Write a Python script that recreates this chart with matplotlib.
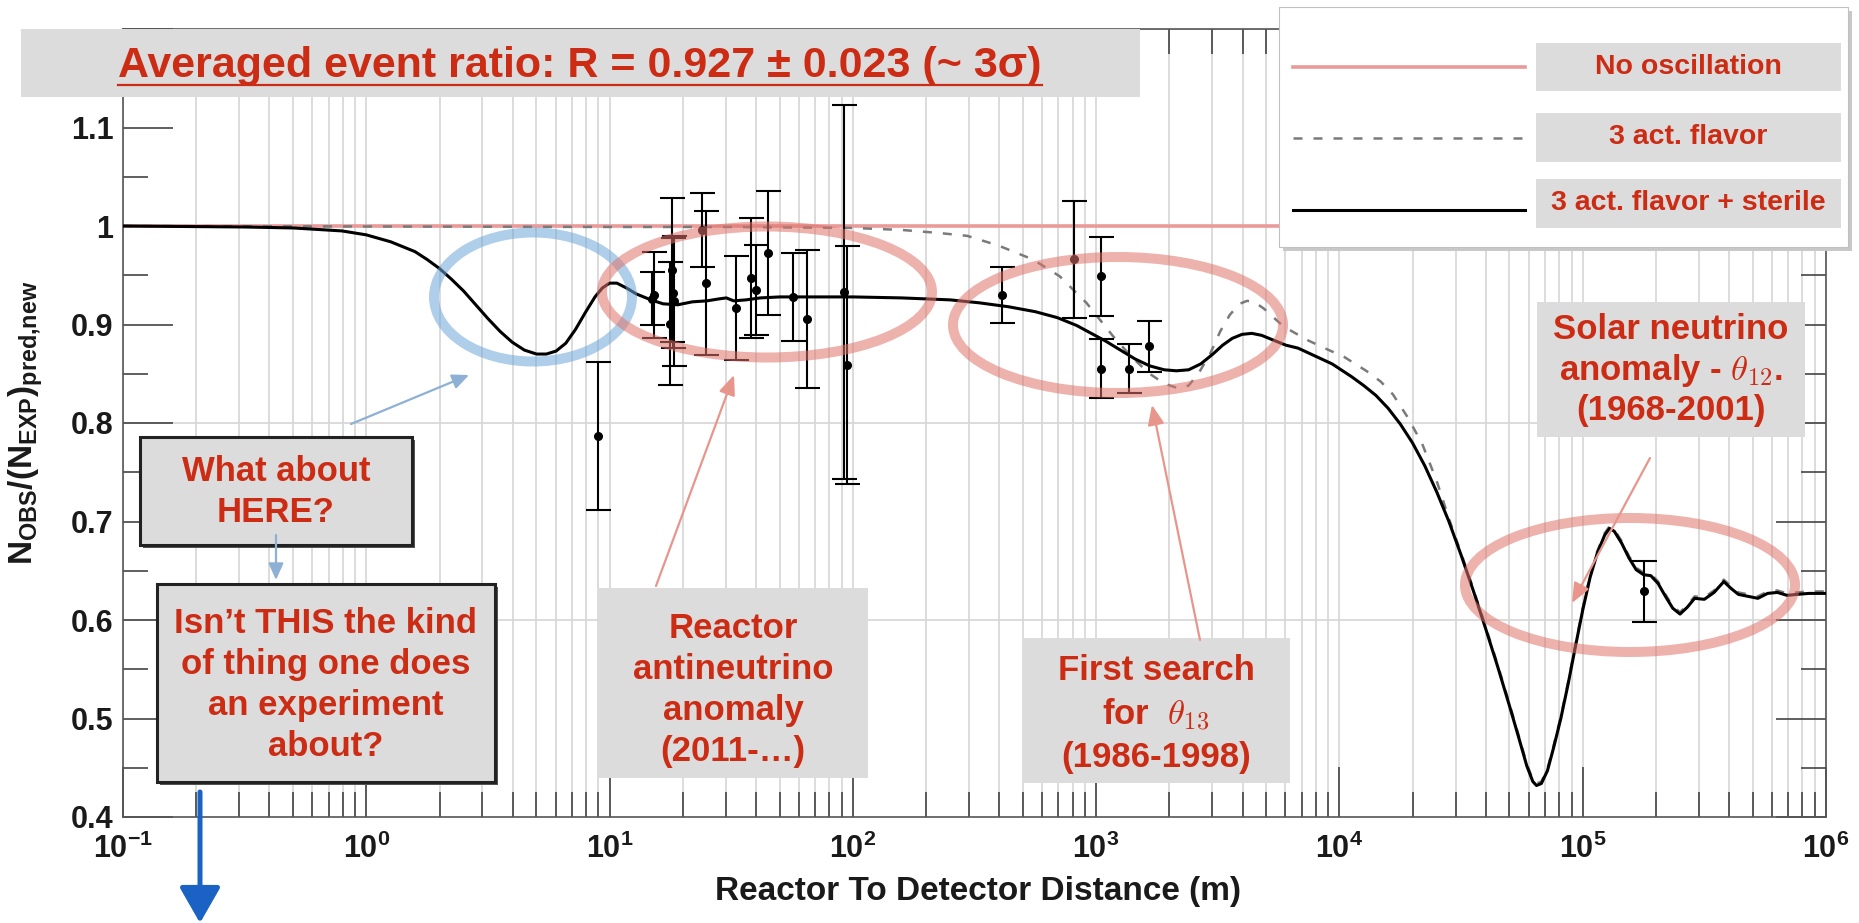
import numpy as np
import matplotlib
matplotlib.use("Agg")
import matplotlib.pyplot as plt
from matplotlib.patches import Rectangle, Ellipse, FancyArrowPatch
from matplotlib.lines import Line2D
from matplotlib.ticker import FixedLocator, FixedFormatter, LogLocator, NullFormatter, MultipleLocator

plt.rcParams['font.family'] = ['Liberation Sans', 'DejaVu Sans']
plt.rcParams['font.weight'] = 'bold'
plt.rcParams['mathtext.fontset'] = 'custom'
plt.rcParams['mathtext.rm'] = 'Liberation Sans:bold'
plt.rcParams['mathtext.it'] = 'Liberation Sans:bold:italic'
plt.rcParams['mathtext.bf'] = 'Liberation Sans:bold'

# measured event ratios (distance in m)
distance = [9, 15, 15.2, 17.8, 18, 18.2, 18.4, 24, 25, 33, 38, 40, 45, 57, 65, 92, 95,
            410, 810, 1050, 1050, 1370, 1650, 179000]
ratio = [0.787, 0.926, 0.930, 0.901, 0.955, 0.932, 0.924, 0.996, 0.942, 0.917, 0.947, 0.935,
         0.973, 0.928, 0.906, 0.933, 0.859, 0.930, 0.966, 0.949, 0.855, 0.855, 0.878, 0.629]
ratio_err = [0.075, 0.027, 0.044, 0.062, 0.073, 0.056, 0.066, 0.038, 0.073, 0.053, 0.061, 0.046,
             0.063, 0.045, 0.070, 0.190, 0.121, 0.028, 0.059, 0.040, 0.030, 0.025, 0.026, 0.031]

# 3 active flavours + sterile (log10 of distance in m)
sterile_logd = [-1.00, -0.50, -0.30, -0.10, 0.00, 0.10, 0.20, 0.25, 0.30, 0.35, 0.40, 0.45, 0.50,
                0.55, 0.60, 0.65, 0.70, 0.74, 0.78, 0.82, 0.86, 0.90, 0.94, 0.97, 1.00, 1.03, 1.07,
                1.11, 1.17, 1.22, 1.28, 1.34, 1.40, 1.45, 1.48, 1.51, 1.56, 1.62, 1.70, 1.80, 2.00,
                2.20, 2.40, 2.52, 2.64, 2.75, 2.84, 2.92, 2.98, 3.04, 3.10, 3.16, 3.22, 3.28, 3.33,
                3.38, 3.43, 3.48, 3.52, 3.56, 3.60, 3.64, 3.68, 3.73, 3.78, 3.83, 3.90, 3.97, 4.05,
                4.10, 4.15, 4.20, 4.25, 4.30, 4.35, 4.40, 4.45, 4.50, 4.55, 4.60, 4.65, 4.70, 4.74,
                4.77, 4.795, 4.81, 4.83, 4.855, 4.88, 4.91, 4.94, 4.97, 5.00, 5.03, 5.06, 5.09, 5.11,
                5.13, 5.16, 5.19, 5.22, 5.25, 5.28, 5.31, 5.34, 5.37, 5.40, 5.43, 5.46, 5.50, 5.54,
                5.58, 5.61, 5.64, 5.68, 5.72, 5.76, 5.80, 5.84, 5.88, 5.93, 6.00]
sterile_ratio = [1.000, 0.999, 0.998, 0.995, 0.991, 0.984, 0.974, 0.966, 0.957, 0.946, 0.934, 0.920,
                 0.906, 0.893, 0.882, 0.874, 0.870, 0.870, 0.873, 0.881, 0.895, 0.912, 0.928, 0.937,
                 0.942, 0.942, 0.937, 0.931, 0.925, 0.921, 0.920, 0.923, 0.924, 0.926, 0.927, 0.924,
                 0.925, 0.927, 0.928, 0.928, 0.928, 0.927, 0.925, 0.922, 0.918, 0.913, 0.907, 0.899,
                 0.891, 0.883, 0.874, 0.865, 0.858, 0.854, 0.853, 0.854, 0.860, 0.870, 0.879, 0.886,
                 0.890, 0.891, 0.889, 0.884, 0.879, 0.876, 0.868, 0.860, 0.847, 0.838, 0.828, 0.815,
                 0.799, 0.780, 0.757, 0.730, 0.700, 0.666, 0.630, 0.592, 0.553, 0.512, 0.478, 0.452,
                 0.436, 0.432, 0.434, 0.447, 0.470, 0.500, 0.535, 0.573, 0.610, 0.643, 0.668, 0.686,
                 0.693, 0.690, 0.678, 0.663, 0.651, 0.646, 0.645, 0.637, 0.624, 0.612, 0.606, 0.613,
                 0.622, 0.621, 0.628, 0.639, 0.632, 0.626, 0.624, 0.622, 0.627, 0.628, 0.625, 0.626,
                 0.627, 0.627]

# 3 active flavours
active_logd = [-1.00, 1.00, 1.50, 2.00, 2.20, 2.35, 2.47, 2.60, 2.74, 2.85, 2.96, 3.07, 3.15, 3.22,
               3.28, 3.34, 3.38, 3.42, 3.47, 3.51, 3.55, 3.59, 3.62, 3.65, 3.69, 3.77, 3.87, 3.93,
               4.02, 4.11, 4.17, 4.22, 4.28, 4.34, 4.40, 4.45, 4.50, 4.55, 4.60, 4.65, 4.70, 4.74,
               4.77, 4.795, 4.81, 4.83, 4.855, 4.88, 4.91, 4.94, 4.97, 5.00, 5.03, 5.06, 5.09, 5.11,
               5.13, 5.16, 5.19, 5.22, 5.25, 5.28, 5.31, 5.34, 5.37, 5.40, 5.43, 5.46, 5.50, 5.54,
               5.58, 5.61, 5.64, 5.68, 5.72, 5.76, 5.80, 5.84, 5.88, 5.93, 6.00]
active_ratio = [1.000, 0.999, 0.999, 0.998, 0.996, 0.993, 0.990, 0.980, 0.966, 0.949, 0.922, 0.888,
                0.866, 0.850, 0.840, 0.835, 0.838, 0.850, 0.871, 0.893, 0.910, 0.921, 0.924, 0.923,
                0.916, 0.898, 0.884, 0.877, 0.867, 0.853, 0.842, 0.829, 0.806, 0.779, 0.741, 0.703,
                0.668, 0.632, 0.594, 0.555, 0.514, 0.480, 0.454, 0.438, 0.434, 0.436, 0.449, 0.472,
                0.502, 0.537, 0.575, 0.612, 0.645, 0.670, 0.688, 0.695, 0.692, 0.680, 0.665, 0.653,
                0.648, 0.647, 0.639, 0.626, 0.614, 0.608, 0.615, 0.624, 0.623, 0.630, 0.641, 0.634,
                0.628, 0.626, 0.624, 0.629, 0.630, 0.627, 0.628, 0.629, 0.629]

noosc_dist = [0.1, 1e6]
noosc_ratio = [1.0, 1.0]

x_ticks = [1e-1, 1e0, 1e1, 1e2, 1e3, 1e4, 1e5, 1e6]
x_tick_labels = [r'$\mathrm{10^{-1}}$', r'$\mathrm{10^{0}}$', r'$\mathrm{10^{1}}$', r'$\mathrm{10^{2}}$',
                 r'$\mathrm{10^{3}}$', r'$\mathrm{10^{4}}$', r'$\mathrm{10^{5}}$', r'$\mathrm{10^{6}}$']
y_ticks = [0.4, 0.5, 0.6, 0.7, 0.8, 0.9, 1.0, 1.1, 1.2]
y_tick_labels = ['0.4', '0.5', '0.6', '0.7', '0.8', '0.9', '1', '1.1', '']
grid_levels = [0.6, 0.8, 1.0, 1.2]

RED = '#cc2b14'
PINK = '#eb9a9a'
W, H = 1859, 923


def fx(x):
    return x / W


def fy(y):
    return 1 - y / H


fig = plt.figure(figsize=(W / 100, H / 100), dpi=100)
ax = fig.add_axes([fx(123), fy(817), (1826 - 123) / W, (817 - 29) / H])

ax.set_xscale('log')
ax.set_xlim(0.1, 1e6)
ax.set_ylim(0.4, 1.2)

ax.grid(True, which='both', axis='x', color='#d6d6d6', lw=1.2, zorder=0)
for lev in grid_levels:
    ax.axhline(lev, color='#d6d6d6', lw=1.2, zorder=0.5)

ax.plot(noosc_dist, noosc_ratio, color=PINK, lw=2.6, zorder=2, solid_capstyle='butt')
ax.plot(10 ** np.array(active_logd), active_ratio, color='#7a7a7a', lw=1.8,
        dashes=(3.6, 4.4), zorder=3)
ax.plot(10 ** np.array(sterile_logd), sterile_ratio, color='black', lw=2.2, zorder=4)
ax.errorbar(distance, ratio, yerr=ratio_err, fmt='o', color='black', ms=5.5, lw=1.5,
            capsize=9, capthick=1.5, zorder=5)

ax.xaxis.set_major_locator(FixedLocator(x_ticks))
ax.xaxis.set_major_formatter(FixedFormatter(x_tick_labels))
ax.xaxis.set_minor_locator(LogLocator(base=10, subs=np.arange(2, 10), numticks=30))
ax.xaxis.set_minor_formatter(NullFormatter())
ax.yaxis.set_major_locator(FixedLocator(y_ticks))
ax.yaxis.set_major_formatter(FixedFormatter(y_tick_labels))
ax.yaxis.set_minor_locator(MultipleLocator(0.05))

ax.tick_params(axis='both', which='both', direction='in', top=True, right=True,
               color='#444444', width=1.2, labelcolor='#1a1a1a')
ax.tick_params(axis='both', which='major', length=36, labelsize=22)
ax.tick_params(axis='both', which='minor', length=18)
ax.tick_params(axis='y', which='major', pad=7)
ax.tick_params(axis='x', which='major', pad=12)
for sp in ax.spines.values():
    sp.set_color('#555555')
    sp.set_linewidth(1.2)

ax.set_xlabel('Reactor To Detector Distance (m)', fontsize=24, fontweight='bold', color='#1a1a1a')
ax.xaxis.set_label_coords(0.502, -0.075)
ax.set_ylabel(r'$\mathrm{N_{OBS}/(N_{EXP})_{pred{,}new}}$', fontsize=24, color='#1a1a1a')
ax.yaxis.set_label_coords(-0.046, 0.5)

# --- title box ---
fig.add_artist(Rectangle((fx(21), fy(97)), (1140 - 21) / W, (97 - 29) / H, transform=fig.transFigure,
                         facecolor='#dcdcdc', edgecolor='none', zorder=10))
title = fig.text(fx(580), fy(66), 'Averaged event ratio: R = 0.927 \u00b1 0.023 (~ 3\u03c3)',
                 ha='center', va='center', color=RED, fontsize=31, fontweight='bold', zorder=11)

# --- legend ---
fig.add_artist(Rectangle((fx(1283), fy(251)), (1852 - 1283) / W, (251 - 11) / H, transform=fig.transFigure,
                         facecolor='#c8c8c8', edgecolor='none', zorder=10))
fig.add_artist(Rectangle((fx(1279), fy(247)), (1848 - 1279) / W, (247 - 7) / H, transform=fig.transFigure,
                         facecolor='white', edgecolor='#c0c0c0', lw=0.8, zorder=11))
legend_rows = [
    (67, 43, 91, 'No oscillation', dict(color=PINK, lw=2.6)),
    (138, 113, 162, '3 act. flavor', dict(color='#7a7a7a', lw=1.8, dashes=(3.6, 4.4))),
    (210, 179, 228, '3 act. flavor + sterile', dict(color='black', lw=2.2)),
]
for ly, by0, by1, lab, style in legend_rows:
    fig.add_artist(Line2D([fx(1293), fx(1525)], [fy(ly), fy(ly)], transform=fig.transFigure,
                          zorder=12, **style))
    fig.add_artist(Rectangle((fx(1536), fy(by1)), (1841 - 1536) / W, (by1 - by0) / H,
                             transform=fig.transFigure, facecolor='#dcdcdc', edgecolor='none', zorder=12))
    fig.text(fx(1688), fy((by0 + by1) / 2), lab, ha='center', va='center', color=RED,
             fontsize=20.5, fontweight='bold', zorder=13)

# --- ellipses ---
ellipses = [
    ((533, 297), 198, 129, (0.43, 0.65, 0.85)),
    ((767, 292), 330, 131, (0.88, 0.45, 0.42)),
    ((1118, 325), 330, 136, (0.88, 0.45, 0.42)),
    ((1630, 585), 330, 134, (0.88, 0.45, 0.42)),
]
for (cx, cy), ew, eh, col in ellipses:
    fig.add_artist(Ellipse((fx(cx), fy(cy)), ew / W, eh / H, transform=fig.transFigure,
                           facecolor='none', edgecolor=col, alpha=0.55, lw=7.2, zorder=6))


# --- annotation boxes ---
def note_box(x0, y0, x1, y1, text, cy, border=False, fs=25, ls=1.3, math_font=None):
    if border:
        fig.add_artist(Rectangle((fx(x0 + 3), fy(y1 + 3)), (x1 - x0) / W, (y1 - y0) / H,
                                 transform=fig.transFigure, facecolor='#555555',
                                 edgecolor='none', zorder=14))
    fig.add_artist(Rectangle((fx(x0), fy(y1)), (x1 - x0) / W, (y1 - y0) / H, transform=fig.transFigure,
                             facecolor='#dcdcdc', edgecolor='#222222' if border else 'none',
                             lw=2.2 if border else 0, zorder=15))
    kw = {}
    if math_font:
        kw['math_fontfamily'] = math_font
    fig.text(fx((x0 + x1) / 2), fy(cy), text, ha='center', va='center', color=RED, fontsize=fs,
             fontweight='bold', linespacing=ls, multialignment='center', zorder=16, **kw)


note_box(140, 437, 412, 545, 'What about\nHERE?', 492, border=True)
note_box(157, 584, 495, 782, 'Isn\u2019t THIS the kind\nof thing one does\nan experiment\nabout?', 685,
         border=True)
note_box(598, 588, 868, 778, 'Reactor\nantineutrino\nanomaly\n(2011-\u2026)', 690)
note_box(1022, 638, 1290, 783, 'First search\nfor  $\\theta_{13}$\n(1986-1998)', 714, math_font='cm')
note_box(1537, 302, 1805, 437, 'Solar neutrino\nanomaly - $\\theta_{12}$.\n(1968-2001)', 370,
         math_font='cm', ls=1.2)


# --- arrows ---
def arrow(p0, p1, color, lw, hl, hw, ms=10, z=17):
    fig.add_artist(FancyArrowPatch((fx(p0[0]), fy(p0[1])), (fx(p1[0]), fy(p1[1])),
                                   transform=fig.transFigure,
                                   arrowstyle='-|>,head_length=%g,head_width=%g' % (hl, hw),
                                   mutation_scale=ms, color=color, lw=lw, shrinkA=0, shrinkB=0,
                                   zorder=z))


arrow((351, 424), (469, 375), '#8db0d4', 1.6, 1.0, 0.45)
arrow((276, 535), (276, 580), '#8db0d4', 1.6, 1.0, 0.45)
arrow((656, 586), (734, 375), '#e8968c', 1.6, 1.2, 0.5)
arrow((1200, 640), (1152, 405), '#e8968c', 1.6, 1.2, 0.5)
arrow((1650, 458), (1572, 603), '#e8968c', 1.6, 1.2, 0.5)
arrow((200, 792), (200, 923), '#1a62c4', 3.6, 1.1, 0.63, ms=20)

# underline the title
fig.canvas.draw()
bb = title.get_window_extent()
fig.add_artist(Line2D([bb.x0 / W, bb.x1 / W], [fy(85), fy(85)], transform=fig.transFigure,
                      color=RED, lw=1.6, zorder=11))

fig.savefig('out.png', dpi=100)
